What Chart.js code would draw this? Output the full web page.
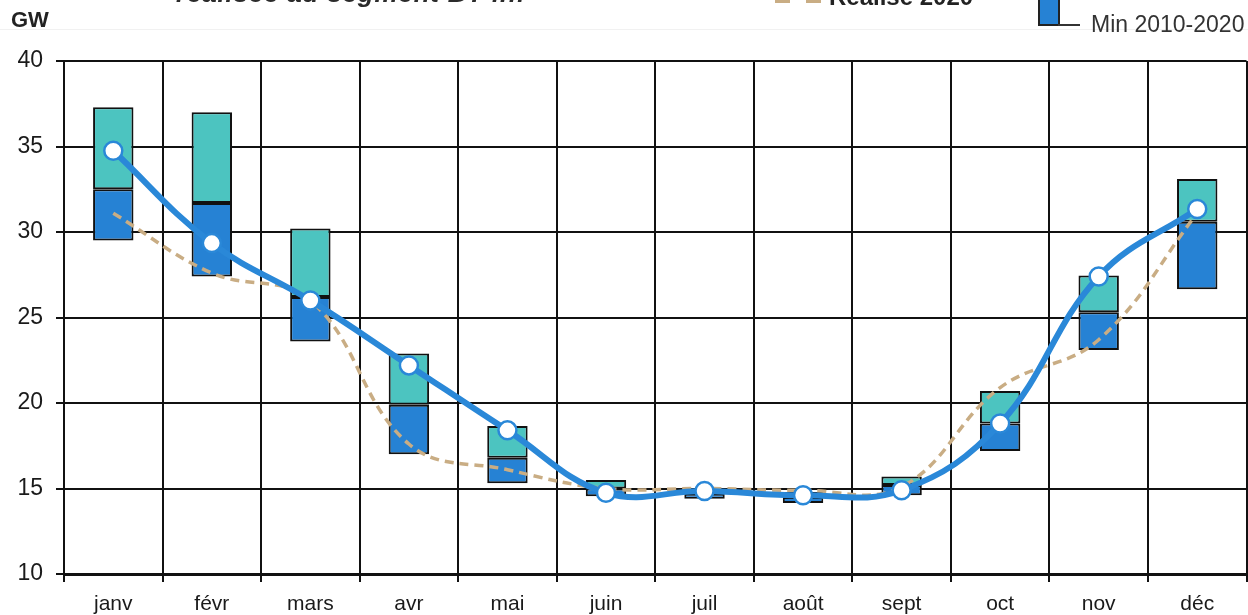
<!DOCTYPE html>
<html lang="fr">
<head>
<meta charset="utf-8">
<script src="https://cdn.jsdelivr.net/npm/chart.js@4"></script>
<style>
    body { margin: 0; background: #fff; font-family: "Liberation Sans", Arial, sans-serif; }
    #wrap { position: relative; width: 1248px; height: 615px; overflow: hidden; }
    #chart { position: absolute; left: 0; top: 0; }
    .sep { position: absolute; left: 0; top: 29px; width: 1248px; height: 1px; background: #f1f1f1; }
    .title { position: absolute; left: 176px; top: -22px; font-size: 26px; letter-spacing: 0.8px; font-weight: bold; font-style: italic; color: #2b2b2b; white-space: nowrap; }
    .unit { position: absolute; left: 11px; top: 7px; font-size: 22px; font-weight: bold; color: #222; }
    .dash { position: absolute; left: 775px; top: -1px; width: 46px; height: 4px; background: repeating-linear-gradient(90deg, #c9ad84 0 15px, transparent 15px 31px); }
    .lg2020 { position: absolute; left: 829px; top: -17px; font-size: 24px; font-weight: bold; color: #222; white-space: nowrap; }
    .box { position: absolute; left: 1038px; top: -10px; width: 18px; height: 34px; background: #2682d4; border: 2px solid #222; border-top: none; }
    .lead { position: absolute; left: 1058px; top: 24px; width: 22px; height: 2px; background: #333; }
    .lgmin { position: absolute; left: 1091px; top: 11px; font-size: 23px; color: #333; white-space: nowrap; }
</style>
</head>
<body>
<div id="wrap">
    <canvas id="chart" width="1258" height="615"></canvas>
    <div class="sep"></div>
    <div class="title">réalisée au segment BT inf</div>
    <div class="unit">GW</div>
    <div class="dash"></div>
    <div class="lg2020">Réalisé 2020</div>
    <div class="box"></div>
    <div class="lead"></div>
    <div class="lgmin">Min 2010-2020</div>
</div>
<script>
// Data (GW)
const months = ['janv', 'févr', 'mars', 'avr', 'mai', 'juin', 'juil', 'août', 'sept', 'oct', 'nov', 'déc'];
const min2010_2020 = [29.5, 27.4, 23.6, 17.0, 15.3, 14.55, 14.4, 14.15, 14.6, 17.2, 23.1, 26.65];
const moy2010_2020 = [32.5, 31.7, 26.2, 19.9, 16.8, 15.0, 14.7, 14.5, 15.2, 18.8, 25.3, 30.6];
const max2010_2020 = [37.3, 37.0, 30.2, 22.9, 18.65, 15.5, 15.0, 14.8, 15.7, 20.7, 27.45, 33.1];
const realise2021 = [34.75, 29.35, 26.0, 22.2, 18.4, 14.75, 14.85, 14.6, 14.9, 18.8, 27.4, 31.35];
const realise2020 = [31.1, 27.6, 26.0, 17.6, 16.1, 15.0, 15.0, 14.9, 15.1, 20.9, 23.7, 31.1];
const yTicks = [10, 15, 20, 25, 30, 35, 40];

const lowBars = months.map((m, i) => [min2010_2020[i], moy2010_2020[i]]);
const highBars = months.map((m, i) => [moy2010_2020[i], max2010_2020[i]]);

const fontFamily = '"Liberation Sans", Arial, sans-serif';

new Chart(document.getElementById('chart'), {
    type: 'bar',
    data: {
        labels: months,
        datasets: [
            {
                label: 'Min - Moy 2010-2020',
                data: lowBars,
                backgroundColor: '#2682d4',
                borderColor: '#111',
                borderWidth: 2,
                borderSkipped: false,
                grouped: false,
                categoryPercentage: 1,
                barPercentage: 0.41,
                order: 4
            },
            {
                label: 'Moy - Max 2010-2020',
                data: highBars,
                backgroundColor: '#4cc4c0',
                borderColor: '#111',
                borderWidth: 2,
                borderSkipped: false,
                grouped: false,
                categoryPercentage: 1,
                barPercentage: 0.41,
                order: 3
            },
            {
                type: 'line',
                label: 'Réalisé 2020',
                data: realise2020,
                borderColor: '#c9ad84',
                borderWidth: 3.5,
                borderDash: [9, 6],
                tension: 0.4,
                pointRadius: 0,
                fill: false,
                order: 2
            },
            {
                type: 'line',
                label: 'Réalisé 2021',
                data: realise2021,
                borderColor: '#2a88d8',
                borderWidth: 6,
                tension: 0.4,
                pointRadius: 9,
                pointBackgroundColor: '#fff',
                pointBorderColor: '#2a88d8',
                pointBorderWidth: 2.5,
                fill: false,
                order: 1
            }
        ]
    },
    options: {
        responsive: false,
        animation: false,
        layout: { padding: { top: 61, right: 10, left: 0, bottom: 0 } },
        plugins: {
            legend: { display: false },
            title: { display: false },
            tooltip: { enabled: false }
        },
        scales: {
            x: {
                offset: true,
                grid: { color: '#111', lineWidth: 2, tickLength: 8, offset: true },
                border: { color: '#111', width: 3 },
                ticks: { color: '#1a1a1a', font: { family: fontFamily, size: 21 }, padding: 10 },
                afterFit: (scale) => { scale.height = 41; }
            },
            y: {
                min: 10,
                max: 40,
                afterBuildTicks: (scale) => { scale.ticks = yTicks.map(v => ({ value: v })); },
                grid: { color: '#111', lineWidth: 2, tickLength: 8 },
                border: { color: '#111', width: 2 },
                ticks: { color: '#1a1a1a', font: { family: fontFamily, size: 23 }, padding: 13 },
                afterFit: (scale) => { scale.width = 64; }
            }
        }
    }
});
</script>
</body>
</html>
